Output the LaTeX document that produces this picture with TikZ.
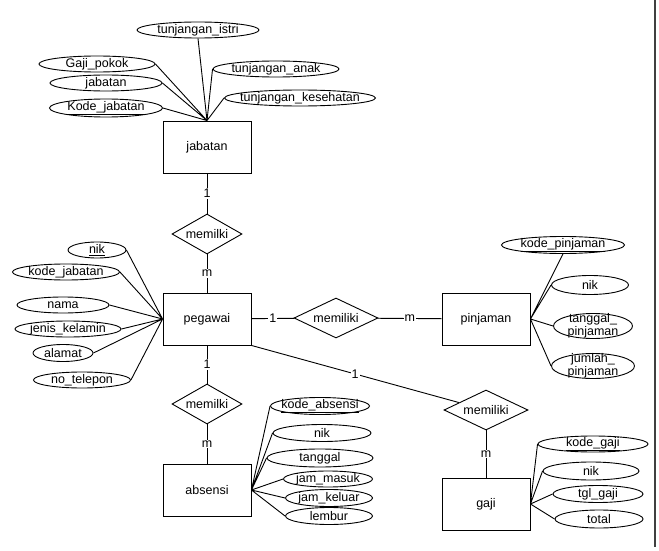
\documentclass[tikz,border=0pt]{standalone}
\usepackage{fontspec}
\setmainfont{Liberation Sans}
\usetikzlibrary{shapes.geometric}

\begin{document}
\begin{tikzpicture}[x=1pt,y=-1pt,line width=0.9pt,every node/.style={font=\fontsize{12.5}{12.5}\selectfont},
  entity/.style={rectangle,draw,minimum width=88pt,minimum height=52pt},
  rel/.style={diamond,draw,aspect=2,inner sep=0pt,minimum width=#1,minimum height=40pt},
  attr/.style={ellipse,draw,fill=white,inner sep=0pt,minimum height=16pt,label={[inner sep=0pt,align=center]center:#1}},
  card/.style={fill=white,inner sep=1pt}]
\useasboundingbox (0,0) rectangle (659,551);
\node[entity] (jabatan) at (207,147) {jabatan}; \node[entity] (pegawai) at (207,319) {pegawai};
\node[entity] (pinjaman) at (486,319) {pinjaman}; \node[entity] (absensi) at (207,490) {absensi};
\node[entity] (gaji) at (486,504) {gaji};
\node[rel=70pt] (r1) at (207,234) {memilki}; \node[rel=84pt] (r2) at (336,318) {memiliki};
\node[rel=70pt] (r3) at (207,404) {memilki}; \node[rel=84pt] (r4) at (486,410) {memiliki};
% atribut jabatan
\node[attr=tunjangan\_istri,minimum width=122pt] (ti) at (198,30) {};
\node[attr=Gaji\_pokok,minimum width=116pt] (gp) at (97,64) {};
\node[attr=jabatan,minimum width=112pt] (jb) at (106,83) {};
\node[attr=\underline{Kode\_jabatan},minimum width=113pt,minimum height=18pt] (kj) at (106,108) {};
\node[attr=tunjangan\_anak,minimum width=126pt] (ta) at (276,69) {};
\node[attr=tunjangan\_kesehatan,minimum width=151pt] (tk) at (300,98) {};
% atribut pegawai
\node[attr=\underline{nik},minimum width=58pt] (pnik) at (97,250) {};
\node[attr=kode\_jabatan,minimum width=107pt] (pkj) at (66,272) {};
\node[attr=nama,minimum width=92pt] (pnama) at (63,305) {};
\node[attr=jenis\_kelamin,minimum width=106pt] (pjk) at (68,329) {};
\node[attr=alamat,minimum width=60pt,minimum height=17pt] (palamat) at (63,353) {};
\node[attr=no\_telepon,minimum width=97pt] (ptelp) at (82,380) {};
% atribut absensi
\node[attr=\underline{kode\_absensi},minimum width=99pt,minimum height=17pt] (akode) at (320,406) {};
\node[attr=nik,minimum width=98pt,minimum height=17pt] (anik) at (322,433) {};
\node[attr=tanggal,minimum width=106pt,minimum height=18pt] (atgl) at (320,458) {};
\node[attr=jam\_masuk,minimum width=89pt] (amasuk) at (328,479) {};
\node[attr=jam\_keluar,minimum width=87pt,minimum height=17pt] (akeluar) at (329,498) {};
\node[attr=lembur,minimum width=87pt,minimum height=17pt] (alembur) at (329,516) {};
% atribut pinjaman
\node[attr=\underline{kode\_pinjaman},minimum width=123pt,minimum height=17pt] (jkode) at (563,245) {};
\node[attr=nik,minimum width=77pt,minimum height=19pt] (jnik) at (590,285) {};
\node[attr={tanggal\_\\pinjaman},minimum width=79pt,minimum height=25pt] (jtgl) at (593,326) {};
\node[attr={jumlah\_\\pinjaman},minimum width=83pt,minimum height=25pt] (jjml) at (593,366) {};
% atribut gaji
\node[attr=\underline{kode\_gaji},minimum width=110pt] (gkode) at (593,444) {};
\node[attr=nik,minimum width=96pt,minimum height=18pt] (gnik) at (591,471) {};
\node[attr=tgl\_gaji,minimum width=90pt,minimum height=17pt] (gtgl) at (598,494) {};
\node[attr=total,minimum width=88pt,minimum height=18pt] (gtotal) at (599,519) {};
\draw (ti.south) -- (jabatan.north) (gp.east) -- (jabatan.north) (jb.east) -- (jabatan.north) (kj.east) -- (jabatan.north)
  (ta.west) -- (jabatan.north) (tk.west) -- (jabatan.north);
\draw (pnik.east) -- (pegawai.west) (pkj.east) -- (pegawai.west) (pnama.east) -- (pegawai.west)
  (pjk.east) -- (pegawai.west) (palamat.east) -- (pegawai.west) (ptelp.east) -- (pegawai.west);
\draw (akode.west) -- (absensi.east) (anik.west) -- (absensi.east) (atgl.west) -- (absensi.east)
  (amasuk.west) -- (absensi.east) (akeluar.west) -- (absensi.east) (alembur.west) -- (absensi.east);
\draw (jkode.south) -- (pinjaman.east) (jnik.west) -- (pinjaman.east) (jtgl.west) -- (pinjaman.east) (jjml.west) -- (pinjaman.east);
\draw (gkode.west) -- (gaji.east) (gnik.west) -- (gaji.east) (gtgl.west) -- (gaji.east) (gtotal.west) -- (gaji.east);
\draw (jabatan) -- node[card] {1} (r1); \draw (r1) -- node[card] {m} (pegawai);
\draw (pegawai) -- node[card] {1} (r2); \draw (r2) -- node[card] {m} (pinjaman);
\draw (pegawai) -- node[card] {1} (r3); \draw (r3) -- node[card] {m} (absensi);
\draw (pegawai.south east) -- node[card] {1} (r4); \draw (r4) -- node[card] {m} (gaji);
\draw[line width=1.6pt,black!75] (655,0) -- (655,547);
\end{tikzpicture}
\end{document}
